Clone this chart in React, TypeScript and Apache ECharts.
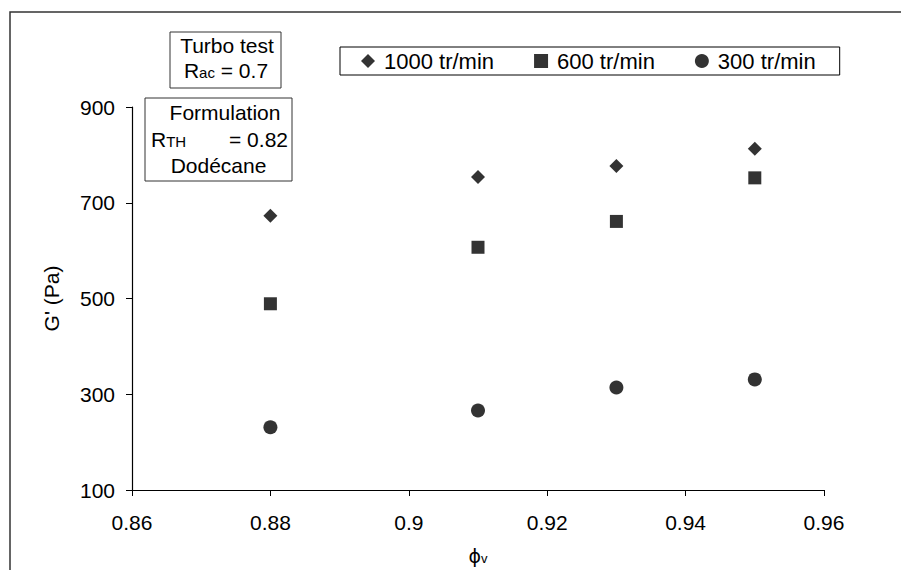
import React, { useEffect, useRef } from "react";
import * as echarts from "echarts";

const xValues = [0.88, 0.91, 0.93, 0.95];
const s1000 = [673, 754, 777, 813];
const s600 = [489, 607, 661, 752];
const s300 = [231, 266, 314, 331];
const seriesNames = ["1000 tr/min", "600 tr/min", "300 tr/min"];

const FONT = "Liberation Sans, Arial, sans-serif";
const FS = 21;

export default function App() {
  const ref = useRef<HTMLDivElement>(null);
  useEffect(() => {
    if (!ref.current) return;
    const chart = echarts.init(ref.current, null, { renderer: "svg" });
    const mk = (vals: number[]) => xValues.map((x, i) => [x, vals[i]]);
    const txt = (x: number, y: number, text: string, align: string, rich?: any) => ({
      type: "text",
      x,
      y,
      style: {
        text,
        align,
        verticalAlign: "middle",
        fontSize: FS,
        fontFamily: FONT,
        fill: "#000",
        rich,
      },
    });
    const subRich = {
      a: { fontSize: FS, fontFamily: FONT, fill: "#000" },
      b: { fontSize: 15, fontFamily: FONT, fill: "#000", padding: [5, 0, 0, 0] },
    };
    chart.setOption({
      animation: false,
      backgroundColor: "#fff",
      textStyle: { fontFamily: FONT, color: "#000" },
      grid: { left: 132, right: 77, top: 107, bottom: 78 },
      legend: {
        left: 340,
        top: 47,
        padding: [3, 24, 3, 21],
        itemGap: 40,
        itemWidth: 14,
        itemHeight: 14,
        borderColor: "#000",
        borderWidth: 1,
        textStyle: { fontSize: 22, fontFamily: FONT, color: "#000", padding: [0, 0, 0, 4] },
        data: [
          { name: seriesNames[0], icon: "diamond" },
          { name: seriesNames[1], icon: "rect" },
          { name: seriesNames[2], icon: "circle" },
        ],
      },
      xAxis: {
        type: "value",
        min: 0.86,
        max: 0.96,
        interval: 0.02,
        name: "{p|ϕ}{s|v}",
        nameLocation: "middle",
        nameGap: 56,
        nameTextStyle: {
          rich: {
            p: { fontSize: 19, fontFamily: "DejaVu Sans, sans-serif", color: "#000" },
            s: { fontSize: 13, fontFamily: FONT, color: "#000", padding: [6, 0, 0, 0] },
          },
        },
        axisLine: { lineStyle: { color: "#000", width: 1.2 } },
        axisTick: { show: true, inside: false, length: 6, lineStyle: { color: "#000" } },
        axisLabel: { fontSize: FS, color: "#000", margin: 22, fontFamily: FONT },
        splitLine: { show: false },
      },
      yAxis: {
        type: "value",
        min: 100,
        max: 900,
        interval: 200,
        name: "G' (Pa)",
        nameLocation: "middle",
        nameGap: 70,
        nameRotate: 90,
        nameTextStyle: { fontSize: FS, color: "#000", fontFamily: FONT },
        axisLine: { show: true, lineStyle: { color: "#000", width: 1.2 } },
        axisTick: { show: true, inside: false, length: 6, lineStyle: { color: "#000" } },
        axisLabel: { fontSize: FS, color: "#000", margin: 17, fontFamily: FONT },
        splitLine: { show: false },
      },
      series: [
        { name: seriesNames[0], type: "scatter", symbol: "diamond", symbolSize: 14, itemStyle: { color: "#000" }, data: mk(s1000) },
        { name: seriesNames[1], type: "scatter", symbol: "rect", symbolSize: 13, itemStyle: { color: "#000" }, data: mk(s600) },
        { name: seriesNames[2], type: "scatter", symbol: "circle", symbolSize: 14, itemStyle: { color: "#000" }, data: mk(s300) },
      ],
      graphic: [
        {
          type: "rect",
          shape: { x: 10, y: 12, width: 1000, height: 700 },
          style: { fill: "none", stroke: "#333", lineWidth: 1.5 },
          silent: true,
        },
        {
          type: "rect",
          shape: { x: 170, y: 32, width: 111, height: 56 },
          style: { fill: "#fff", stroke: "#333", lineWidth: 1 },
        },
        txt(227, 45, "Turbo test", "center"),
        txt(226, 70, "{a|R}{b|ac}{a| = 0.7}", "center", subRich),
        {
          type: "rect",
          shape: { x: 145, y: 98, width: 147, height: 83 },
          style: { fill: "#fff", stroke: "#333", lineWidth: 1 },
        },
        txt(225, 112, "Formulation", "center"),
        txt(151, 139, "{a|R}{b|TH}", "left", subRich),
        txt(288, 139, "= 0.82", "right"),
        txt(218.5, 165, "Dodécane", "center"),
      ],
    });
    return () => chart.dispose();
  }, []);
  return <div ref={ref} style={{ width: 901, height: 570, position: "absolute", left: 0, top: 0 }} />;
}
